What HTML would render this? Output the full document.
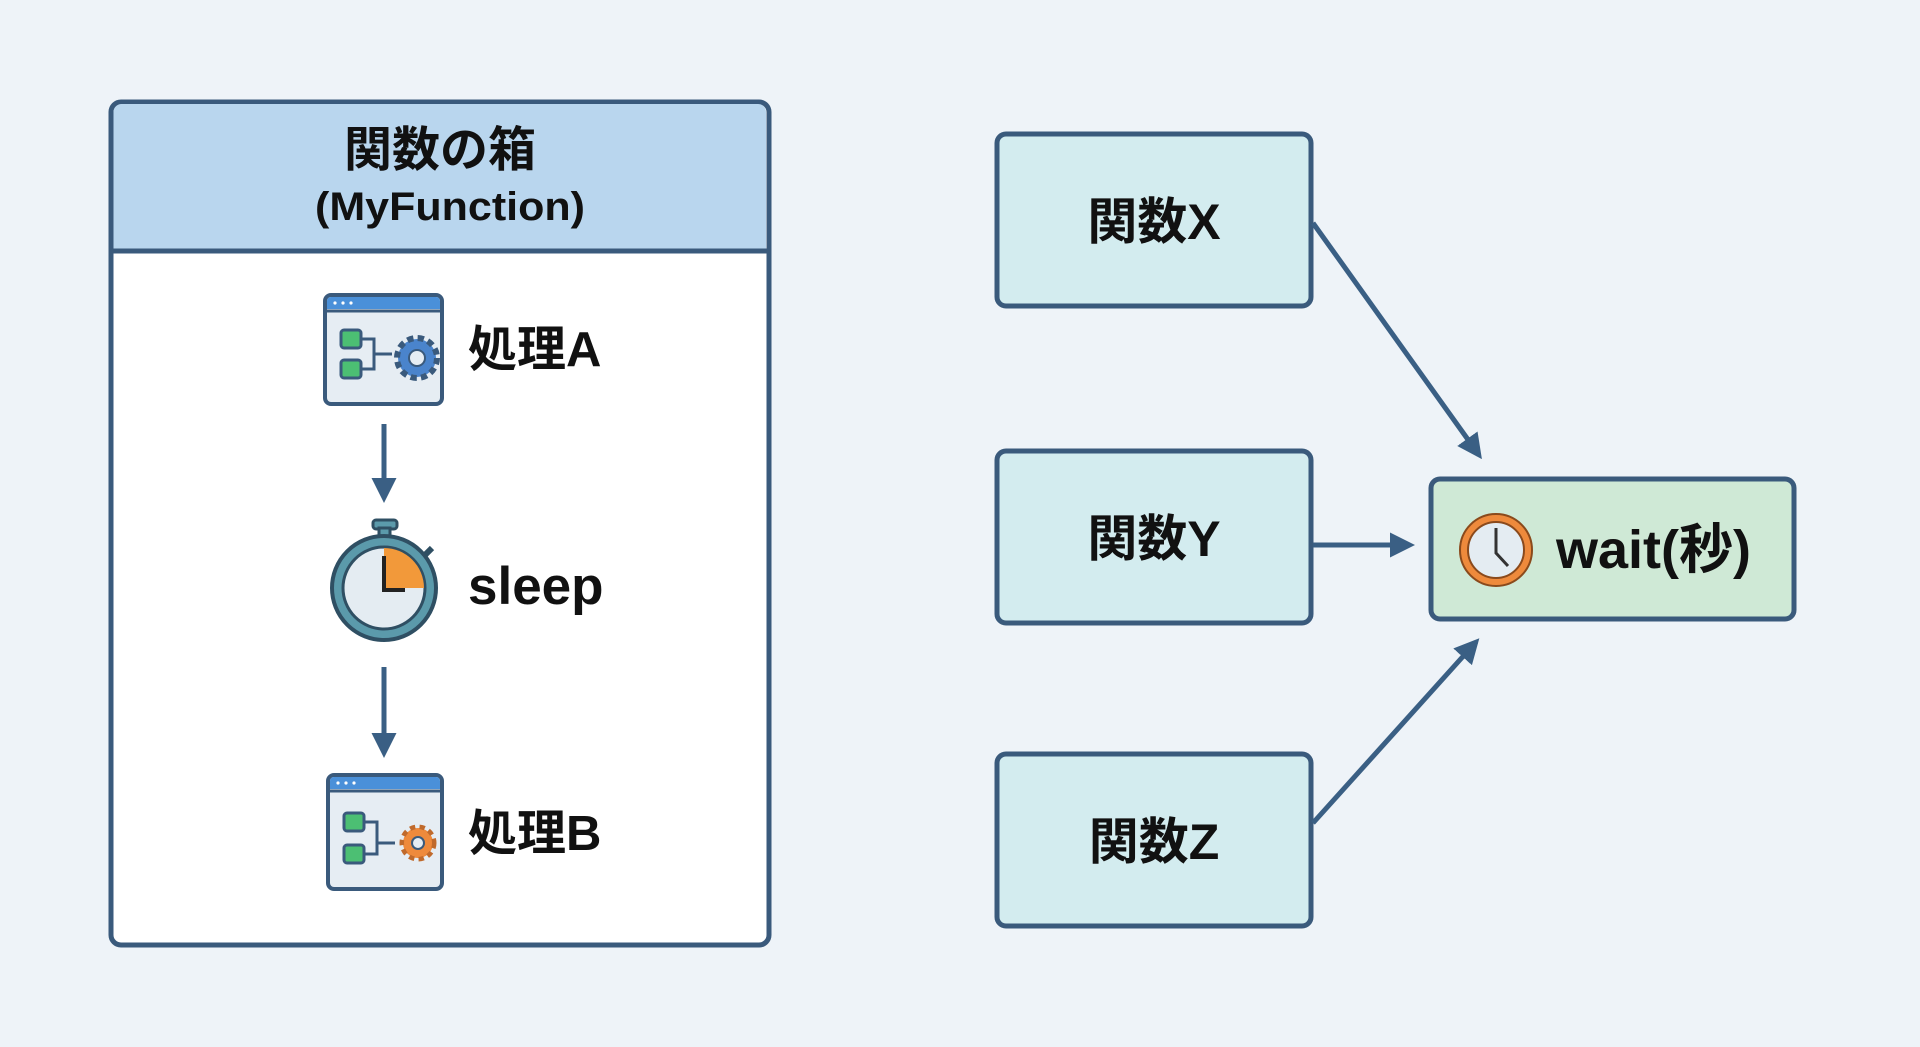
<!DOCTYPE html>
<html><head><meta charset="utf-8"><style>
html,body{margin:0;padding:0;background:#eef3f8;}
svg{display:block}
text{font-family:"Liberation Sans","Noto Sans CJK JP",sans-serif;font-weight:bold;fill:#111;}
</style></head><body>
<svg width="1920" height="1047" viewBox="0 0 1920 1047" xmlns="http://www.w3.org/2000/svg">
<defs>
<marker id="ah" viewBox="0 0 10 10" refX="8" refY="5" markerWidth="5" markerHeight="5" orient="auto" markerUnits="strokeWidth">
<path d="M0,0 L10,5 L0,10 z" fill="#3a5f84"/></marker>
</defs>
<rect width="1920" height="1047" fill="#eef3f8"/>
<rect x="111" y="102" width="658" height="843" rx="10" fill="#fff" stroke="#3a5a7c" stroke-width="5"/>
<path d="M113.5,251 V112 a8,8 0 0 1 8,-8 H758 a8,8 0 0 1 8,8 V251 z" fill="#b9d6ee"/>
<line x1="111" y1="251" x2="769" y2="251" stroke="#3a5a7c" stroke-width="5"/>
<text x="440" y="166" font-size="48" text-anchor="middle">関数の箱</text>
<text x="450" y="220" font-size="40" text-anchor="middle" textLength="270" lengthAdjust="spacingAndGlyphs">(MyFunction)</text>
<g>
<rect x="325" y="295" width="117" height="109" rx="6" fill="#e6edf3" stroke="#3a5a7c" stroke-width="4"/>
<path d="M327,309 V301 a4,4 0 0 1 4,-4 H436 a4,4 0 0 1 4,4 V309 z" fill="#4a90d9"/>
<line x1="325" y1="311" x2="442" y2="311" stroke="#3a5a7c" stroke-width="3"/>
<circle cx="335" cy="303" r="1.6" fill="#fff"/><circle cx="343" cy="303" r="1.6" fill="#fff"/><circle cx="351" cy="303" r="1.6" fill="#fff"/>
<rect x="341" y="330" width="20" height="18" rx="3" fill="#4cbf73" stroke="#3a5a7c" stroke-width="3"/>
<rect x="341" y="360" width="20" height="18" rx="3" fill="#4cbf73" stroke="#3a5a7c" stroke-width="3"/>
<path d="M361,339 H374 V369 H361 M374,354 H392" fill="none" stroke="#3a5a7c" stroke-width="3"/>
<circle cx="417" cy="358" r="19" fill="#4a84cc" stroke="#3a5a7c" stroke-width="8" stroke-dasharray="6 4"/>
<circle cx="417" cy="358" r="17" fill="#4a84cc"/>
<circle cx="417" cy="358" r="8" fill="#e6edf3" stroke="#3a5a7c" stroke-width="2"/>
</g>
<text x="468" y="366" font-size="49">処理A</text>
<line x1="384" y1="424" x2="384" y2="498" stroke="#3a5f84" stroke-width="5" marker-end="url(#ah)"/>
<rect x="373" y="520" width="24" height="9" rx="3" fill="#5b9aab" stroke="#2f4f63" stroke-width="3"/>
<rect x="379" y="528" width="11" height="9" fill="#5b9aab" stroke="#2f4f63" stroke-width="3"/>
<line x1="425" y1="555" x2="432" y2="548" stroke="#2f4f63" stroke-width="6"/>
<circle cx="384" cy="588" r="52" fill="#5b9aab" stroke="#2f4f63" stroke-width="4"/>
<circle cx="384" cy="588" r="41" fill="#e4ecf2" stroke="#2f4f63" stroke-width="3"/>
<path d="M384,588 V548 A40,40 0 0 1 424,588 z" fill="#f2993a"/>
<path d="M384,556 V590 H405" fill="none" stroke="#222" stroke-width="4"/>
<text x="468" y="604" font-size="53">sleep</text>
<line x1="384" y1="667" x2="384" y2="753" stroke="#3a5f84" stroke-width="5" marker-end="url(#ah)"/>
<g>
<rect x="328" y="775" width="114" height="114" rx="6" fill="#e6edf3" stroke="#3a5a7c" stroke-width="4"/>
<path d="M330,789 V781 a4,4 0 0 1 4,-4 H436 a4,4 0 0 1 4,4 V789 z" fill="#4a90d9"/>
<line x1="328" y1="791" x2="442" y2="791" stroke="#3a5a7c" stroke-width="3"/>
<circle cx="338" cy="783" r="1.6" fill="#fff"/><circle cx="346" cy="783" r="1.6" fill="#fff"/><circle cx="354" cy="783" r="1.6" fill="#fff"/>
<rect x="344" y="813" width="20" height="18" rx="3" fill="#4cbf73" stroke="#3a5a7c" stroke-width="3"/>
<rect x="344" y="845" width="20" height="18" rx="3" fill="#4cbf73" stroke="#3a5a7c" stroke-width="3"/>
<path d="M364,822 H377 V854 H364 M377,843 H395" fill="none" stroke="#3a5a7c" stroke-width="3"/>
<circle cx="418" cy="843" r="15" fill="#ee8a3c" stroke="#c06a2c" stroke-width="7" stroke-dasharray="5 4"/>
<circle cx="418" cy="843" r="14" fill="#ee8a3c"/>
<circle cx="418" cy="843" r="6" fill="#e6edf3" stroke="#3a5a7c" stroke-width="2"/>
</g>
<text x="468" y="850" font-size="49">処理B</text>
<rect x="997" y="134" width="314" height="172" rx="9" fill="#d3ecef" stroke="#3a5a7c" stroke-width="5"/>
<text x="1154" y="239" font-size="50" text-anchor="middle">関数X</text>
<rect x="997" y="451" width="314" height="172" rx="9" fill="#d3ecef" stroke="#3a5a7c" stroke-width="5"/>
<text x="1154" y="556" font-size="50" text-anchor="middle">関数Y</text>
<rect x="997" y="754" width="314" height="172" rx="9" fill="#d3ecef" stroke="#3a5a7c" stroke-width="5"/>
<text x="1154" y="859" font-size="50" text-anchor="middle">関数Z</text>
<rect x="1431" y="479" width="363" height="140" rx="9" fill="#cfe9d6" stroke="#3a5a7c" stroke-width="5"/>
<circle cx="1496" cy="550" r="36" fill="#ee8a3c" stroke="#8a4a1c" stroke-width="2"/>
<circle cx="1496" cy="550" r="28" fill="#e4ecf2" stroke="#8a4a1c" stroke-width="2"/>
<path d="M1496,528 V553 L1508,566" fill="none" stroke="#333" stroke-width="3"/>
<text x="1556" y="568" font-size="54">wait(秒)</text>
<line x1="1313" y1="223" x2="1479" y2="455" stroke="#3a5f84" stroke-width="5" marker-end="url(#ah)"/>
<line x1="1313" y1="545" x2="1410" y2="545" stroke="#3a5f84" stroke-width="5" marker-end="url(#ah)"/>
<line x1="1313" y1="823" x2="1476" y2="642" stroke="#3a5f84" stroke-width="5" marker-end="url(#ah)"/>
</svg>
</body></html>
